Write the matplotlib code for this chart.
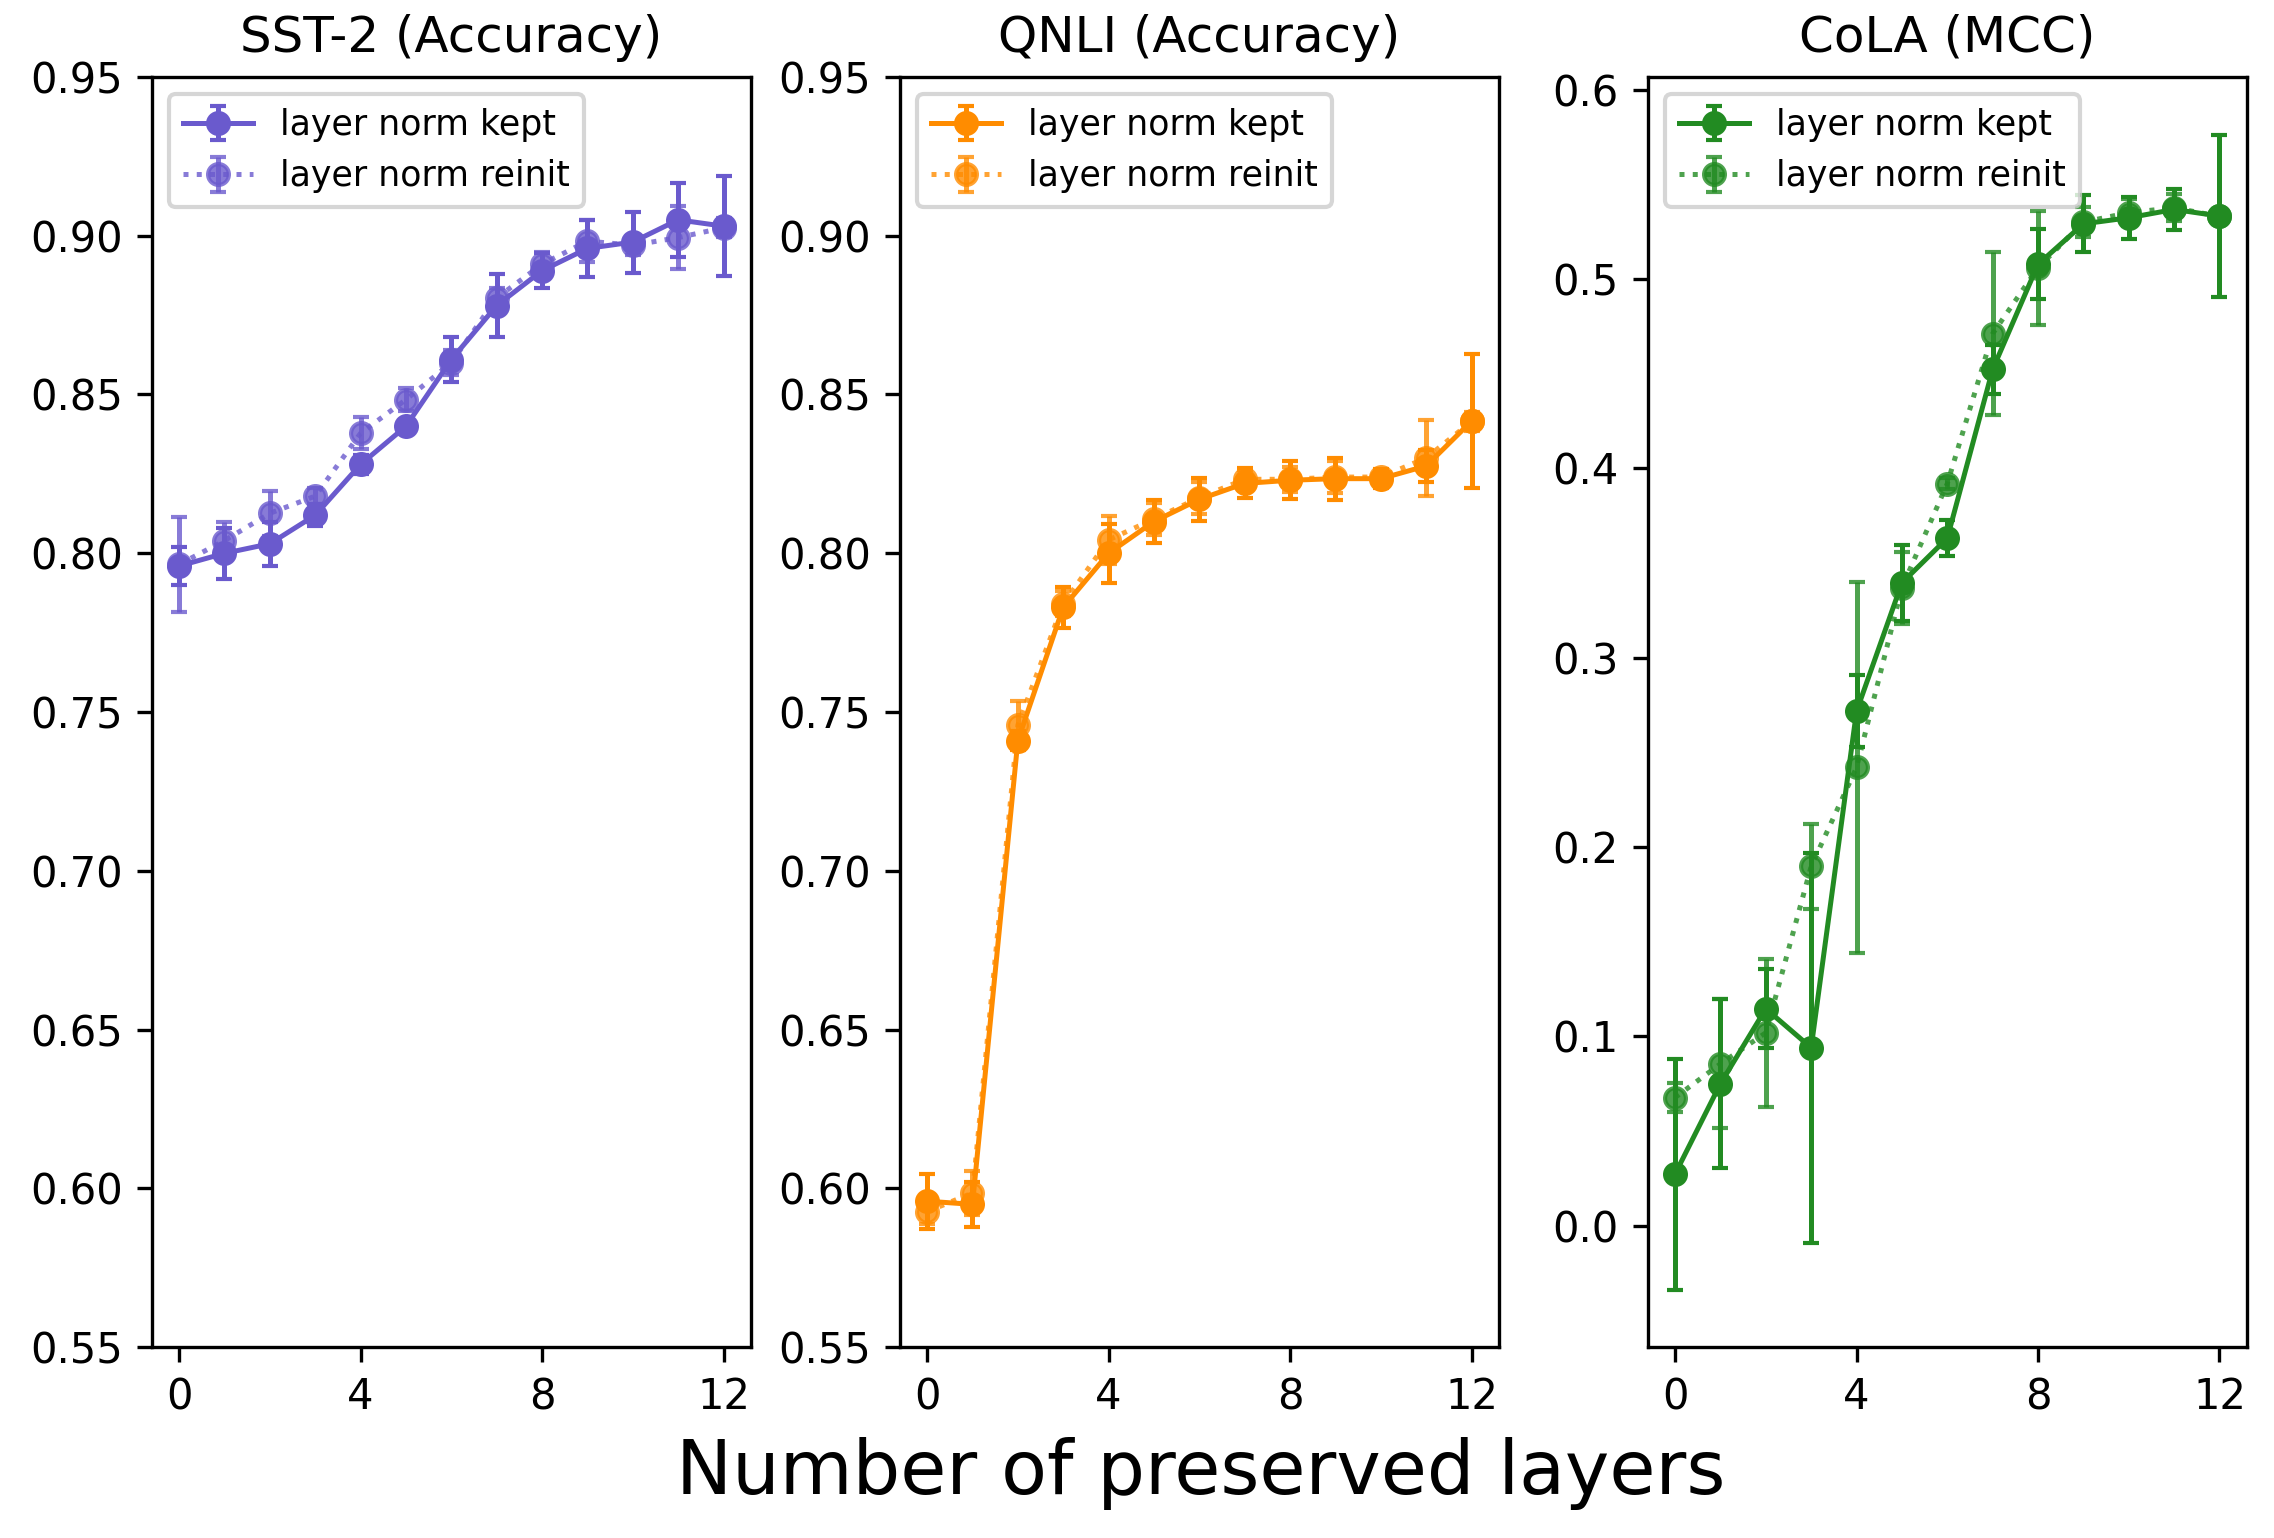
import matplotlib
matplotlib.use("Agg")
import matplotlib.pyplot as plt
import numpy as np

layers = list(range(13))

# SST-2 (accuracy)
sst_kept = [0.796, 0.800, 0.803, 0.812, 0.828, 0.840, 0.861, 0.878, 0.889, 0.896, 0.898, 0.905, 0.903]
sst_kept_err = [0.006, 0.008, 0.007, 0.0035, 0.003, 0.001, 0.007, 0.010, 0.0056, 0.009, 0.0096, 0.0117, 0.0157]
sst_reinit = [0.7965, 0.804, 0.8126, 0.818, 0.8378, 0.8484, 0.860, 0.8804, 0.891, 0.8983, 0.897, 0.8994, 0.9025]
sst_reinit_err = [0.015, 0.006, 0.007, 0.0025, 0.005, 0.0036, 0.004, 0.003, 0.004, 0.0067, 0.003, 0.010, 0.003]

# QNLI (accuracy)
qnli_kept = [0.596, 0.595, 0.741, 0.783, 0.800, 0.810, 0.817, 0.822, 0.823, 0.8235, 0.8235, 0.8275, 0.8416]
qnli_kept_err = [0.0086, 0.007, 0.003, 0.0064, 0.0092, 0.0068, 0.0067, 0.0047, 0.006, 0.0066, 0.003, 0.005, 0.021]
qnli_reinit = [0.5927, 0.5986, 0.7459, 0.7841, 0.8042, 0.8108, 0.8175, 0.8233, 0.8233, 0.824, 0.824, 0.830, 0.8415]
qnli_reinit_err = [0.004, 0.007, 0.0076, 0.004, 0.0076, 0.005, 0.005, 0.003, 0.004, 0.005, 0.002, 0.012, 0.003]

# CoLA (MCC)
cola_kept = [0.0273, 0.075, 0.1146, 0.094, 0.2717, 0.3395, 0.3631, 0.4522, 0.5077, 0.5291, 0.5323, 0.5367, 0.5332]
cola_kept_err = [0.061, 0.0445, 0.021, 0.103, 0.019, 0.020, 0.0094, 0.0128, 0.0185, 0.015, 0.011, 0.011, 0.043]
cola_reinit = [0.0677, 0.0855, 0.1019, 0.1898, 0.242, 0.337, 0.3919, 0.4711, 0.5059, 0.530, 0.535, 0.5376, 0.533]
cola_reinit_err = [0.0077, 0.034, 0.039, 0.0225, 0.098, 0.019, 0.003, 0.043, 0.030, 0.008, 0.007, 0.007, 0.004]

panels = [
    ("SST-2 (Accuracy)", "slateblue", sst_kept, sst_kept_err, sst_reinit, sst_reinit_err, (0.55, 0.95)),
    ("QNLI (Accuracy)", "darkorange", qnli_kept, qnli_kept_err, qnli_reinit, qnli_reinit_err, (0.55, 0.95)),
    ("CoLA (MCC)", "forestgreen", cola_kept, cola_kept_err, cola_reinit, cola_reinit_err, None),
]

fig, axes = plt.subplots(1, 3, figsize=(2274 / 300, 1538 / 300), dpi=300)
fig.subplots_adjust(left=0.0668, right=0.988, bottom=0.124, top=0.950, wspace=0.249)

for ax, (title, color, kept, kept_err, reinit, reinit_err, ylim) in zip(axes, panels):
    ax.errorbar(layers, kept, yerr=kept_err, color=color, marker='o', markersize=5,
                linestyle='-', linewidth=1.2, capsize=2, label='layer norm kept', zorder=3)
    ax.errorbar(layers, reinit, yerr=reinit_err, color=color, marker='o', markersize=5,
                linestyle=':', linewidth=1.2, capsize=2, alpha=0.8,
                label='layer norm reinit', zorder=2)
    ax.set_title(title, fontsize=12)
    ax.set_xticks([0, 4, 8, 12])
    if ylim is not None:
        ax.set_ylim(*ylim)
    ax.legend(loc='upper left', fontsize='small')

fig.text(0.528, 0.042, 'Number of preserved layers', ha='center', va='center', fontsize=18)

fig.savefig('out.png', dpi=300)
